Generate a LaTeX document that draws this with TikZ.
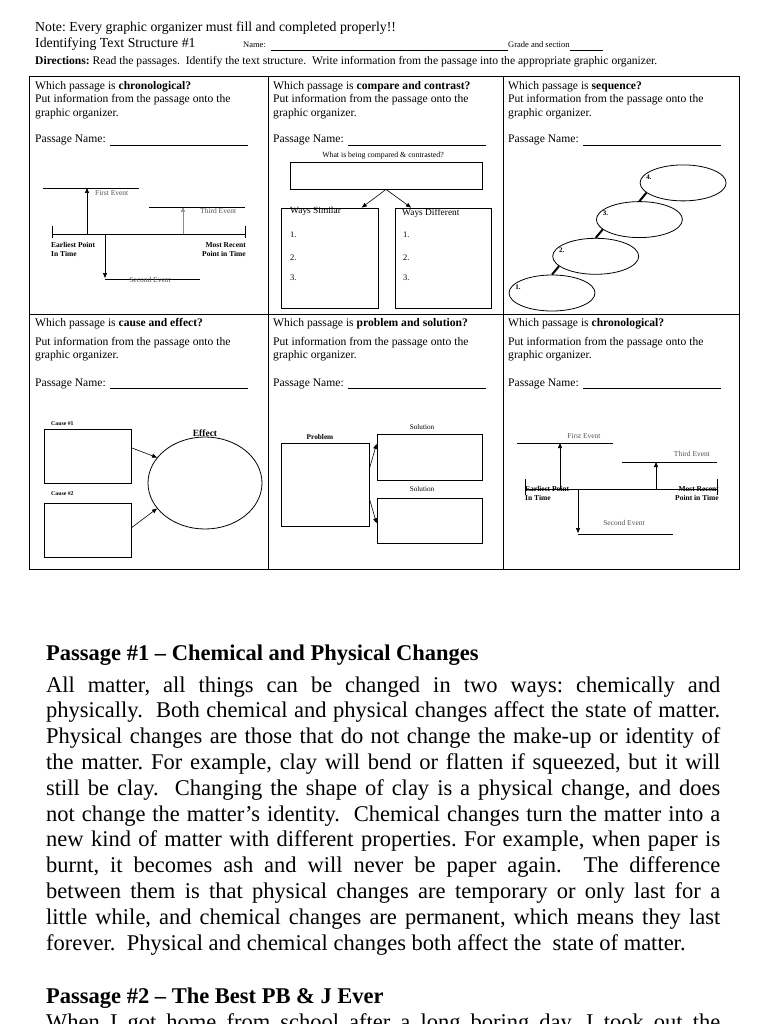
\documentclass[tikz,border=0pt]{standalone}
\usepackage{fontspec}
\setmainfont{Liberation Serif}
\usetikzlibrary{arrows.meta, positioning, calc, shapes.geometric}
\definecolor{evgray}{RGB}{80,80,80}
\frenchspacing

\tikzset{
  hdr/.style={anchor=base west, inner sep=0pt, font=\fontsize{11.6}{13.3}\selectfont},
  evlbl/.style={inner sep=0pt, text=evgray, font=\fontsize{7.5}{9}\selectfont},
  endlbl/.style={inner sep=0pt, font=\fontsize{7.5}{9}\selectfont\bfseries},
  tinylbl/.style={inner sep=0pt, font=\fontsize{7.2}{8}\selectfont},
  orgbox/.style={draw, line width=0.8pt, inner sep=0pt},
  tip/.style={-{Triangle[length=5pt, width=4pt]}, line width=0.6pt},
  bodyline/.style={anchor=base west, inner sep=0pt, font=\fontsize{22.5}{25.8}\selectfont},
  passtitle/.style={anchor=base west, inner sep=0pt, font=\fontsize{22.5}{25.8}\selectfont\bfseries},
}

\begin{document}
\begin{tikzpicture}[x=1pt, y=-1pt]
  \useasboundingbox (0,0) rectangle (768,1024);
  \clip (0,0) rectangle (768,1024);

  % page heading
  \node[anchor=base west, inner sep=0pt, font=\fontsize{13.8}{15.9}\selectfont] (note) at (35,32) {Note: Every graphic organizer must fill and completed properly!!};
  \node[anchor=base west, inner sep=0pt, font=\fontsize{13.8}{15.9}\selectfont] (ident) at (35,48) {Identifying Text Structure \#1};
  \node[anchor=base west, inner sep=0pt, font=\fontsize{8.5}{10}\selectfont] (namelbl) at (243,48) {Name:};
  \node[anchor=base west, inner sep=0pt, font=\fontsize{8.5}{10}\selectfont] (grade) at (508,48) {Grade and section};
  \draw[line width=0.8pt] ([xshift=5pt,yshift=-2.5pt]namelbl.base east) -- ([yshift=-2.5pt]grade.base west);
  \draw[line width=0.8pt] ([yshift=-2.5pt]grade.base east) -- ++(33,0);
  \node[anchor=base west, inner sep=0pt, font=\fontsize{11.6}{13}\selectfont] (dirs) at (35,64.5) {\textbf{Directions:} Read the passages.\ \ Identify the text structure.\ \ Write information from the passage into the appropriate graphic organizer.};

  % table
  \draw[line width=1pt] (29,77) rectangle (739,569);
  \draw[line width=1pt] (268,77) -- (268,569) (503,77) -- (503,569) (29,314) -- (739,314);

  % cell headings
  \foreach \cx/\cy/\gp/\gn/\kw/\nm in {35/90/13/53/chronological/a, 273/90/13/53/compare and contrast/b, 508/90/13/53/sequence/c,
      35/326/19/60/cause and effect/d, 273/326/19/60/problem and solution/e, 508/326/19/60/chronological/f} {
    \node[hdr] (q\nm) at (\cx,\cy) {Which passage is \textbf{\kw?}};
    \node[hdr] (p\nm) at (\cx,\cy+\gp) {Put information from the passage onto the};
    \node[hdr] (g\nm) at (\cx,\cy+\gp+13.3) {graphic organizer.};
    \node[hdr] (n\nm) at (\cx,\cy+\gn) {Passage Name:};
    \draw[line width=0.8pt] ([xshift=4.5pt,yshift=-2pt]n\nm.base east) -- ++(138,0);
  }

  % chronological (top left)
  \coordinate (ea) at (52,234);
  \coordinate (mr) at (245,234);
  \draw[line width=0.8pt] (ea) -- (mr);
  \draw[line width=0.8pt] ([yshift=8pt]ea) -- ([yshift=-4pt]ea) ([yshift=8pt]mr) -- ([yshift=-4pt]mr);
  \coordinate (fe) at (87,188);
  \draw[tip] (fe |- ea) -- (fe);
  \draw[line width=0.8pt] (fe) ++(-44,0) -- ++(96,0);
  \node[evlbl, anchor=west] (fel) at (95,193) {First Event};
  \coordinate (te) at (183,207);
  \draw[tip, draw=black!45] (te |- ea) -- (te);
  \draw[line width=0.8pt] (te) ++(-34,0) -- ++(96,0);
  \node[evlbl, anchor=west] (tel) at (200,211) {Third Event};
  \coordinate (se) at (105,278);
  \draw[tip] (se |- ea) -- (se);
  \draw[line width=0.8pt] (se) ++(0,1) -- ++(95,0);
  \node[evlbl] (sel) at (150,280) {Second Event};
  \node[endlbl, align=left, anchor=north west] (eal) at (51,242.5) {Earliest Point\\In Time};
  \node[endlbl, align=right, anchor=north east] (mrl) at (246,242.5) {Most Recent\\Point in Time};

  % compare and contrast
  \node[tinylbl, font=\fontsize{7.8}{9}\selectfont] (whatlbl) at (383,156) {What is being compared \& contrasted?};
  \node[orgbox, minimum width=192, minimum height=27] (what) at (386,175.5) {};
  \node[orgbox, minimum width=97, minimum height=100] (sim) at (329.5,258) {};
  \node[orgbox, minimum width=96, minimum height=100] (diff) at (443,258) {};
  \draw[tip] (what.south) -- ($(sim.north west)!0.83!(sim.north east)$);
  \draw[tip] (what.south) -- ($(diff.north west)!0.17!(diff.north east)$);
  \node[anchor=base west, inner sep=0pt, font=\fontsize{9.4}{11}\selectfont] (simlbl) at (290,214) {Ways Similar};
  \node[anchor=base west, inner sep=0pt, font=\fontsize{9.4}{11}\selectfont] (difflbl) at (402,216) {Ways Different};
  \foreach \k/\yy in {1/237, 2/260, 3/280} {
    \node[anchor=base west, inner sep=0pt, font=\fontsize{8.5}{10}\selectfont] (sim\k) at (290,\yy) {\k.};
    \node[anchor=base west, inner sep=0pt, font=\fontsize{8.5}{10}\selectfont] (diff\k) at (403,\yy) {\k.};
  }

  % sequence
  \foreach \k in {1,...,4} {
    \node[ellipse, draw, line width=0.8pt, minimum width=86, minimum height=36, inner sep=0pt] (s\k) at ({552+43.7*(\k-1)},{293-36.7*(\k-1)}) {};
    \node[tinylbl, font=\fontsize{7}{8}\selectfont\bfseries] (sl\k) at ($(s\k.center)+(-34,-6)$) {\k.};
  }
  \foreach \k/\j in {2/1, 3/2, 4/3}
    \draw[line width=2pt] (s\k.195) -- (s\j.north);

  % cause and effect
  \node[anchor=base west, inner sep=0pt, font=\fontsize{5.8}{7}\selectfont\bfseries] (c1lbl) at (51,425) {Cause \#1};
  \node[orgbox, minimum width=87, minimum height=54] (c1) at (87.5,456) {};
  \node[anchor=base west, inner sep=0pt, font=\fontsize{5.8}{7}\selectfont\bfseries] (c2lbl) at (51,495) {Cause \#2};
  \node[orgbox, minimum width=87, minimum height=54] (c2) at (87.5,530) {};
  \node[ellipse, draw, line width=0.8pt, minimum width=114, minimum height=92, inner sep=0pt] (ef) at (205,483) {};
  \node[anchor=base, inner sep=0pt, font=\fontsize{9.5}{11}\selectfont\bfseries] (eflbl) at (205,436) {Effect};
  \draw[tip] ($(c1.north east)!0.35!(c1.south east)$) -- (ef.152);
  \draw[tip] ($(c2.north east)!0.46!(c2.south east)$) -- (ef.208);

  % problem and solution
  \node[tinylbl] (sol1lbl) at (422,427) {Solution};
  \node[tinylbl, font=\fontsize{7.3}{8}\selectfont\bfseries] (problbl) at (320,437) {Problem};
  \node[orgbox, minimum width=88, minimum height=83] (prob) at (325,484.5) {};
  \node[orgbox, minimum width=105, minimum height=46] (sol1) at (429.5,457) {};
  \node[tinylbl] (sol2lbl) at (422,489) {Solution};
  \node[orgbox, minimum width=105, minimum height=45] (sol2) at (429.5,520.5) {};
  \draw[tip] ($(prob.north east)!0.31!(prob.south east)$) -- ($(sol1.north west)!0.22!(sol1.south west)$);
  \draw[tip] ($(prob.north east)!0.67!(prob.south east)$) -- ($(sol2.north west)!0.56!(sol2.south west)$);

  % chronological (bottom right)
  \coordinate (ea2) at (525,489);
  \coordinate (mr2) at (717,489);
  \draw[line width=0.8pt] (ea2) -- (mr2);
  \draw[line width=0.8pt] ([yshift=10pt]ea2) -- ([yshift=-6pt]ea2) ([yshift=10pt]mr2) -- ([yshift=-6pt]mr2);
  \coordinate (fe2) at (560,443);
  \draw[tip] (fe2 |- ea2) -- (fe2);
  \draw[line width=0.8pt] (fe2) ++(-43,0) -- ++(96,0);
  \node[evlbl] (fel2) at (584,436) {First Event};
  \coordinate (te2) at (656,462);
  \draw[tip] (te2 |- ea2) -- (te2);
  \draw[line width=0.8pt] (te2) ++(-34,0) -- ++(95,0);
  \node[evlbl] (tel2) at (692,454) {Third Event};
  \coordinate (se2) at (578,533);
  \draw[tip] (se2 |- ea2) -- (se2);
  \draw[line width=0.8pt] (se2) ++(0,1) -- ++(95,0);
  \node[evlbl] (sel2) at (624,523) {Second Event};
  \node[endlbl, align=left, anchor=north west] (eal2) at (525,486) {Earliest Point\\In Time};
  \node[endlbl, align=right, anchor=north east] (mrl2) at (719,486) {Most Recent\\Point in Time};

  % passages
  \node[passtitle] (pt1) at (46,660) {Passage \#1 -- Chemical and Physical Changes};
  \foreach \ln [count=\i] in {
      {All matter, all things can be changed in two ways: chemically and},
      {physically.\ \ Both chemical and physical changes affect the state of matter.},
      {Physical changes are those that do not change the make-up or identity of},
      {the matter. For example, clay will bend or flatten if squeezed, but it will},
      {still be clay.\ \ Changing the shape of clay is a physical change, and does},
      {not change the matter’s identity.\ \ Chemical changes turn the matter into a},
      {new kind of matter with different properties. For example, when paper is},
      {burnt, it becomes ash and will never be paper again.\ \ The difference},
      {between them is that physical changes are temporary or only last for a},
      {little while, and chemical changes are permanent, which means they last}} {
    \node[bodyline] (ln\i) at (46,{692+25.8*(\i-1)}) {\makebox[674pt][s]{\ln}};
  }
  \node[bodyline] (ln11) at (46,950) {forever.\ \ Physical and chemical changes both affect the\ \ state of matter.};
  \node[passtitle] (pt2) at (46,1003) {Passage \#2 -- The Best PB \& J Ever};
  \node[bodyline] (ln12) at (46,1029) {\makebox[674pt][s]{When I got home from school after a long boring day, I took out the}};
\end{tikzpicture}
\end{document}
